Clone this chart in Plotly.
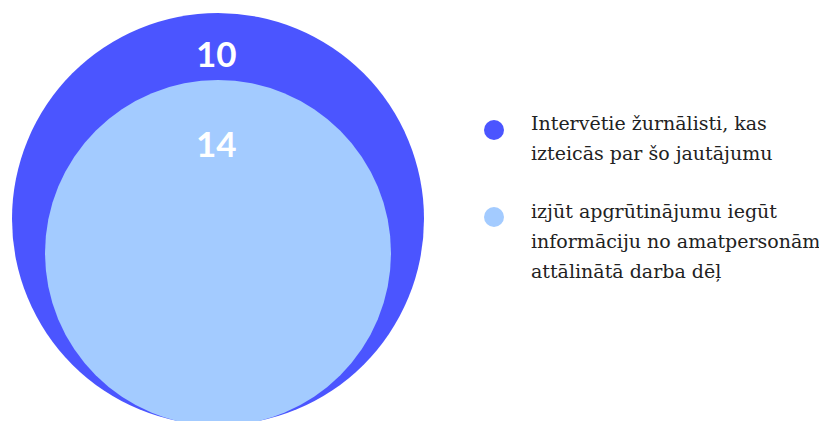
import plotly.graph_objects as go

# ---- data ----
series_names = [
    ["Intervētie žurnālisti, kas", "izteicās par šo jautājumu"],
    ["izjūt apgrūtinājumu iegūt", "informāciju no amatpersonām", "attālinātā darba dēļ"],
]
circle_values = [10, 14]
colors = ["#4B55FF", "#A3CBFF"]

# page has an 8px body margin; size figure to fit the 827x421 window
OFF = 8
W, H = 827, 421

# geometry (layout, in screen-pixel axis units)
circles = [
    dict(cx=218, cy=219, r=206),   # outer
    dict(cx=218, cy=253, r=173),   # inner
]
label_y = [53, 143]

fig = go.Figure()

shapes = []
for c, col in zip(circles, colors):
    shapes.append(dict(type="circle", xref="x", yref="y",
                       x0=c["cx"] - c["r"], x1=c["cx"] + c["r"],
                       y0=c["cy"] - c["r"], y1=c["cy"] + c["r"],
                       fillcolor=col, line=dict(width=0), layer="below"))

annotations = []
for v, c, ly in zip(circle_values, circles, label_y):
    annotations.append(dict(x=c["cx"] - 2, y=ly, xref="x", yref="y", text=f"<b>{v}</b>",
                            showarrow=False, xanchor="center", yanchor="middle",
                            font=dict(family="Lato", size=35, color="white")))

# custom legend
legend_x_dot = 494
legend_dot_y = [130, 217]
legend_x_text = 529
legend_first_center = [123, 211]
line_gap = 30
for i, (lines, col) in enumerate(zip(series_names, colors)):
    fig.add_trace(go.Scatter(x=[legend_x_dot], y=[legend_dot_y[i]],
                             mode="markers", marker=dict(size=20, color=col),
                             hoverinfo="skip", showlegend=False))
    for j, line in enumerate(lines):
        annotations.append(dict(x=legend_x_text, y=legend_first_center[i] + j * line_gap,
                                xref="x", yref="y",
                                text=line, showarrow=False, xanchor="left", yanchor="middle",
                                font=dict(family="DejaVu Serif", size=19, color="#222222")))

fig.update_layout(
    width=W - OFF, height=H - OFF,
    margin=dict(l=0, r=0, t=0, b=0),
    paper_bgcolor="white", plot_bgcolor="white",
    xaxis=dict(range=[OFF, W], visible=False, fixedrange=True),
    yaxis=dict(range=[H, OFF], visible=False, fixedrange=True),
    shapes=shapes, annotations=annotations, showlegend=False,
)

fig.write_html("out.html")
